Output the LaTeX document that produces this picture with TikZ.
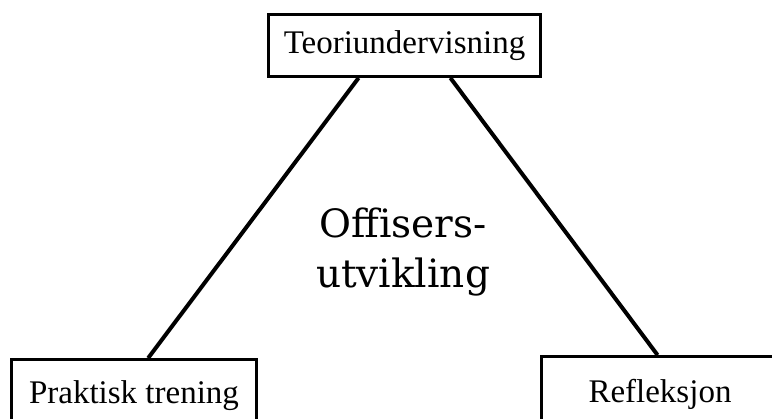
\documentclass[tikz,border=0pt]{standalone}
\usepackage{fontspec}
\setmainfont{Liberation Serif}
\newfontfamily\slabfont{DejaVu Serif}
\usetikzlibrary{calc}
\begin{document}
\begin{tikzpicture}[x=1pt, y=-1pt, line width=4pt,
    main/.style = {draw, line width=2.8pt, minimum height=62pt, inner sep=0pt, font=\fontsize{33}{40}\selectfont}]
  \useasboundingbox (0,0) rectangle (772,419);
  \node[main, minimum width=272pt] (teori) at (404.5,45.5) {Teoriundervisning};
  \node[main, minimum width=245pt, minimum height=72pt] (praktisk) at (134,395.5) {Praktisk trening};
  \node[main, minimum width=237pt, minimum height=76pt] (refleks) at (660,394.5) {Refleksjon};
  \node[align=center, font=\slabfont\fontsize{39}{50}\selectfont] (offiser) at (403,252) {Offisers-\\utvikling};

  \draw ($(teori.south west)!0.333!(teori.south east)$) -- ($(praktisk.north west)!0.557!(praktisk.north east)$);
  \draw ($(teori.south west)!0.667!(teori.south east)$) -- ($(refleks.north west)!0.49!(refleks.north east)$);
\end{tikzpicture}
\end{document}
